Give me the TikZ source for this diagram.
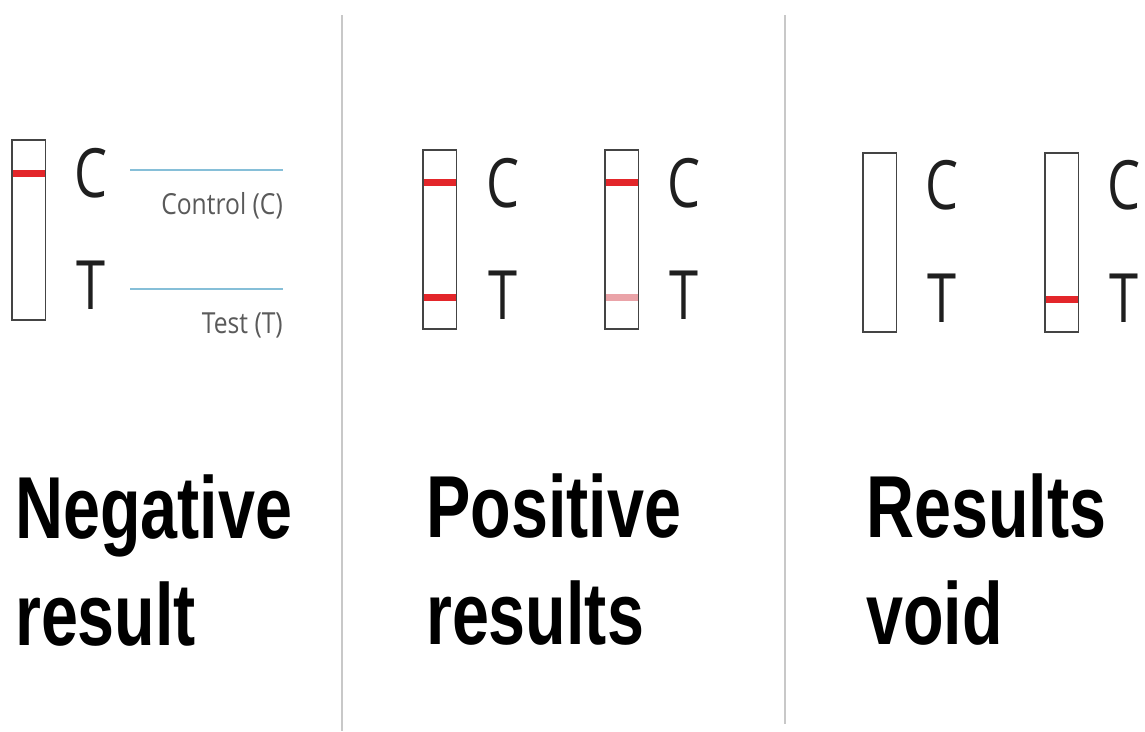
\documentclass[tikz,border=0pt]{standalone}
\usepackage{fontspec}
\usepackage{graphicx}
\newfontfamily\osans{Open Sans}
\newfontfamily\lsans{Liberation Sans}
\definecolor{bandred}{HTML}{E3262A}
\definecolor{bandpink}{HTML}{EAA3A8}
\definecolor{lineblue}{HTML}{86BFD8}
\definecolor{stripgray}{HTML}{444444}
\definecolor{labelgray}{HTML}{5A5A5A}
\definecolor{divgray}{HTML}{C8C8C8}
\tikzset{
  stripbox/.style={draw=none, fill=white, inner sep=0pt, anchor=north west, minimum width=33pt},
  stripside/.style={draw=stripgray, line width=1.2pt},
  stripend/.style={draw=stripgray, line width=2pt},
  band/.style={fill=bandred, draw=none},
  faintband/.style={fill=bandpink, draw=none},
  letter/.style={anchor=base, inner sep=0pt, font=\osans\fontsize{68}{68}\selectfont, text=black!88},
  biglabel/.style={anchor=base west, inner sep=0pt, font=\lsans\bfseries\fontsize{88}{88}\selectfont, text=black},
  smalllabel/.style={anchor=base east, inner sep=0pt, font=\osans\fontsize{29}{29}\selectfont, text=labelgray},
  guide/.style={draw=lineblue, line width=2pt},
  divider/.style={draw=divgray, line width=1.5pt}
}
\newcommand{\sq}[1]{\scalebox{0.77}[1]{#1}}
\newcommand{\sqs}[1]{\scalebox{0.85}[1]{#1}}
\newcommand{\sqb}[1]{\scalebox{0.755}[1]{#1}}
\begin{document}
\begin{tikzpicture}[x=1pt,y=-1pt]
\useasboundingbox[fill=white] (0,0) rectangle (1145,731);
% dividers
\coordinate (d1t) at (342,15); \coordinate (d1b) at (342,731);
\coordinate (d2t) at (785,15); \coordinate (d2b) at (785,724);
\draw[divider] (d1t) -- (d1b);
\draw[divider] (d2t) -- (d2b);
% ---------- Panel 1 ----------
\node[stripbox, minimum height=180pt] (s1) at (12,140) {};
\fill[band] (12,169.5) rectangle (45,176.5);
\node[letter] (c1) at (91,197) {\sq{C}};
\node[letter] (t1) at (91,309) {\sq{T}};
\coordinate (gc1) at (130,170); \coordinate (gc2) at (283,170);
\coordinate (gt1) at (130,289); \coordinate (gt2) at (283,289);
\draw[guide] (gc1) -- (gc2);
\draw[guide] (gt1) -- (gt2);
\node[smalllabel] (lc) at (283,214) {\sqs{Control (C)}};
\node[smalllabel] (lt) at (283,333) {\sqs{Test (T)}};
\node[biglabel] (n1) at (15,538) {\sqb{Negative}};
\node[biglabel] (n2) at (15,645) {\sqb{result}};
% ---------- Panel 2 ----------
\node[stripbox, minimum height=179pt] (s2) at (423,150) {};
\fill[band] (423,178.5) rectangle (456,185.5);
\fill[band] (423,293.5) rectangle (456,300.5);
\node[letter] (c2) at (503,207) {\sq{C}};
\node[letter] (t2) at (503,319) {\sq{T}};
\node[stripbox, minimum height=179pt] (s3) at (605,150) {};
\fill[band] (605,178.5) rectangle (638,185.5);
\fill[faintband] (605,293.5) rectangle (638,300.5);
\node[letter] (c3) at (684,207) {\sq{C}};
\node[letter] (t3) at (684,319) {\sq{T}};
\node[biglabel] (p1) at (426,537) {\sqb{Positive}};
\node[biglabel] (p2) at (426,644) {\sqb{results}};
% ---------- Panel 3 ----------
\node[stripbox, minimum height=179pt] (s4) at (863,153) {};
\node[letter] (c4) at (942,209) {\sq{C}};
\node[letter] (t4) at (942,322) {\sq{T}};
\node[stripbox, minimum height=179pt] (s5) at (1045,153) {};
\fill[band] (1045,295.5) rectangle (1078,302.5);
\node[letter] (c5) at (1124,209) {\sq{C}};
\node[letter] (t5) at (1124,322) {\sq{T}};
\node[biglabel] (r1) at (866,537) {\sqb{Results}};
\node[biglabel] (r2) at (866,644) {\sqb{void}};
% strip borders: thin sides, heavier ends
\foreach \s in {s1,s2,s3,s4,s5} {
  \draw[stripside] (\s.north west) -- (\s.south west);
  \draw[stripside] (\s.north east) -- (\s.south east);
  \draw[stripend] ([xshift=-0.6pt]\s.north west) -- ([xshift=0.6pt]\s.north east);
  \draw[stripend] ([xshift=-0.6pt]\s.south west) -- ([xshift=0.6pt]\s.south east);
}
\end{tikzpicture}
\end{document}
